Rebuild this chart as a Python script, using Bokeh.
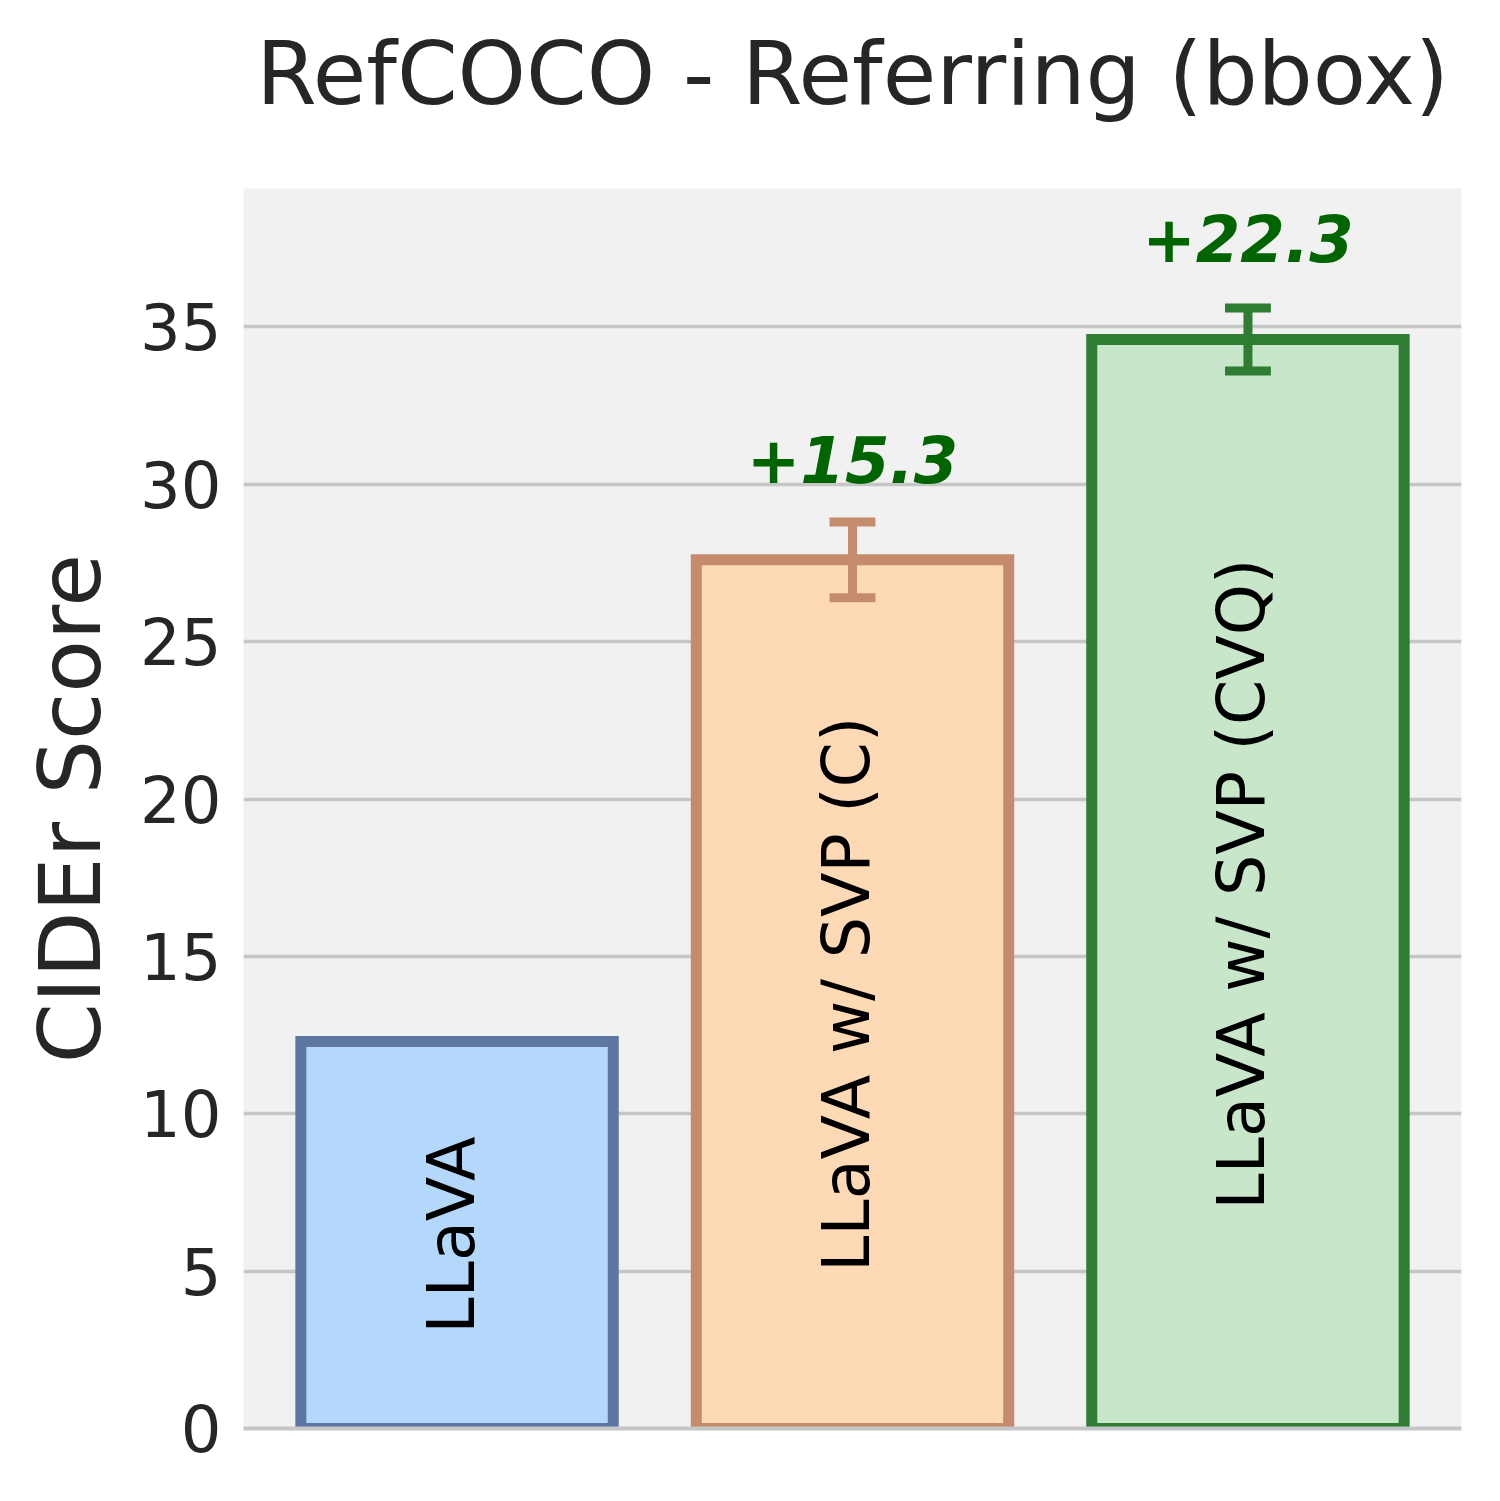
import numpy as np

from bokeh.plotting import figure
from bokeh.models import ColumnDataSource, FixedTicker, LinearAxis, Range1d, Title
from bokeh.core.properties import value
from bokeh.embed import file_html
from bokeh.resources import INLINE

# data
models = ["LLaVA", "LLaVA w/ SVP (C)", "LLaVA w/ SVP (CVQ)"]
scores = [12.3, 27.6, 34.6]
errors = [0.0, 1.2, 1.0]
gains = ["", "+15.3", "+22.3"]
y_ticks = [0, 5, 10, 15, 20, 25, 30, 35]

# colours
fill_colors = ["#b3d8fc", "#fdd9b5", "#c8e6c9"]
edge_colors = ["#5e76a2", "#c48c6c", "#2e7d32"]
gain_color = "#006400"
font = "DejaVu Sans"

xs = np.arange(len(models))
sc = np.array(scores)
er = np.array(errors)

bars = ColumnDataSource(dict(x=xs, top=sc, fill=fill_colors, edge=edge_colors,
                             name=models, mid=sc / 2))

p = figure(frame_width=1218, frame_height=1240, min_border_left=243, min_border_right=17,
           min_border_top=188, min_border_bottom=45, title_location=None,
           x_range=Range1d(-0.54, 2.54), y_range=Range1d(0, 39.4),
           output_backend="svg", toolbar_location=None)

p.background_fill_color = "#f1f1f1"
p.border_fill_color = "white"
p.outline_line_color = None

# bottom spine only, no ticks or labels
bottom = p.below[0]
bottom.ticker = FixedTicker(ticks=[])
bottom.axis_line_color = "#c6c6c6"
bottom.axis_line_width = 4
bottom.major_tick_line_color = None
bottom.minor_tick_line_color = None
bottom.major_tick_out = 0
bottom.major_tick_in = 0
p.xgrid.grid_line_color = None

# white axis right above the frame, only used as a gap under the title
gap = LinearAxis(ticker=FixedTicker(ticks=[1]), axis_line_color=None,
                 major_tick_line_color="white", minor_tick_line_color=None,
                 major_tick_out=59, major_tick_in=0, minor_tick_out=0,
                 major_label_standoff=0, major_label_overrides={1: ""},
                 major_label_text_font_size="1px", major_label_text_color="white")
p.add_layout(gap, "above")

p.add_layout(Title(text="RefCOCO - Referring (bbox)", align="center", text_font=font,
                   text_font_size="87px", text_font_style="normal",
                   text_color="#262626", standoff=10), "above")

p.ygrid.ticker = FixedTicker(ticks=y_ticks)
p.ygrid.grid_line_color = "#c6c6c6"
p.ygrid.grid_line_width = 3.5

p.yaxis.ticker = FixedTicker(ticks=y_ticks)
p.yaxis.axis_line_color = None
p.yaxis.major_tick_line_color = None
p.yaxis.minor_tick_line_color = None
p.yaxis.major_tick_out = 0
p.yaxis.major_tick_in = 0
p.yaxis.major_label_standoff = 22
p.yaxis.major_label_text_font = font
p.yaxis.major_label_text_font_size = "64px"
p.yaxis.major_label_text_color = "#262626"
p.yaxis.axis_label = "CIDEr Score"
p.yaxis.axis_label_text_font = font
p.yaxis.axis_label_text_font_size = "86px"
p.yaxis.axis_label_text_font_style = "normal"
p.yaxis.axis_label_text_color = "#262626"
p.yaxis.axis_label_standoff = 17

p.vbar(x="x", top="top", width=0.79, bottom=0, source=bars,
       fill_color="fill", line_color="edge", line_width=11, line_join="miter")

# model names inside the bars
p.text(x="x", y="mid", text="name", source=bars, angle=np.pi / 2, x_offset=-6,
       text_align="center", text_baseline="middle", text_color="black",
       text_font=value(font), text_font_size="65px")

# error bars and gain labels for the SVP variants
cap = 0.058
for i in range(1, len(models)):
    lo, hi = sc[i] - er[i], sc[i] + er[i]
    p.segment(x0=[xs[i], xs[i] - cap, xs[i] - cap], y0=[lo, lo, hi],
              x1=[xs[i], xs[i] + cap, xs[i] + cap], y1=[hi, lo, hi],
              line_color=edge_colors[i], line_width=9)
    p.text(x=[xs[i]], y=[sc[i] + 3.2], text=[gains[i]], text_align="center",
           text_baseline="middle", text_color=gain_color,
           text_font=value(font), text_font_style="bold italic", text_font_size="64px")

open("out.html", "w").write(file_html(p, INLINE))
